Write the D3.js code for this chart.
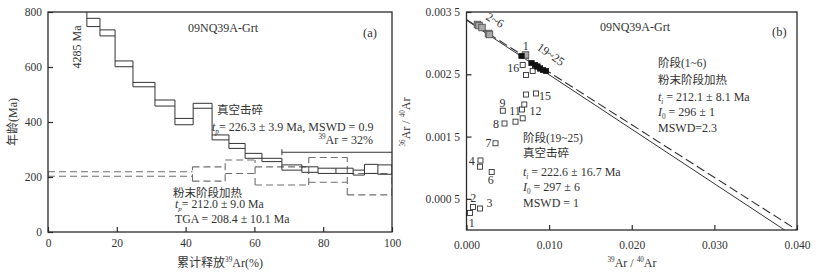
<!DOCTYPE html>
<html><head><meta charset="utf-8">
<script src="https://cdn.jsdelivr.net/npm/d3@7"></script>
<style>
body{margin:0;background:#fff;}
svg text{font-family:"Liberation Serif","Times New Roman","Noto Sans CJK SC",serif;fill:#333;}
</style></head><body><svg id="c" width="819" height="274"></svg>
<script>
// ---------- data: panel (a) age spectra ----------
const crushCum   = [0, 11.3, 15.1, 19.5, 24.7, 31.1, 36.9, 42.2, 47.7, 52.6, 57.3, 62.2, 68.0, 73.8, 78.5, 83.7, 88.7, 92.0, 95.9, 100];
const crushAgeHi = [4300, 777, 735, 622, 544, 480, 413, 468, 353, 322, 286, 268, 244, 237, 232, 232, 225, 246, 244];
const crushAgeLo = [4270, 747, 713, 601, 528, 458, 390, 450, 335, 304, 268, 256, 225, 217, 213, 213, 207, 213, 210];
const heatCum    = [0, 42.0, 51.5, 60.2, 75.8, 87.0, 100];
const heatAgeHi  = [219, 237, 262, 237, 271, 213];
const heatAgeLo  = [203, 185, 213, 171, 181, 135];
const plateauRange = [68.0, 100];
const plateauAge = 290;
// ---------- data: panel (b) isochron ----------
const openX  = [0.000424,0.000787,0.001634,0.001694,0.001634,0.003050,0.003510,0.004599,0.004393,0.005930,0.006717,0.006996,0.006802,0.007201,0.008412,0.006802,0.007201,0.008012];
const openY  = [0.000273,0.000369,0.000345,0.001116,0.001016,0.000931,0.001392,0.001710,0.001915,0.001739,0.001935,0.002015,0.001793,0.002175,0.002192,0.002649,0.002489,0.002553];
const grayX  = [0.007141,0.001331,0.001513,0.001876,0.002663,0.002784];
const grayY  = [0.002810,0.003299,0.003283,0.003251,0.003155,0.003139];
const blackX = [0.006657,0.007867,0.008291,0.008593,0.008896,0.009259,0.009622];
const blackY = [0.002794,0.002681,0.002649,0.002625,0.002593,0.002569,0.002553];
const isoSolid  = [[0, 1/297], [0.0385, 0]];
const isoDashed = [[0, 1/296], [0.0400, 0]];
// point labels: [text, x, y] (data coords of label centre)
const ptLabels = [["1",0.00716,0.00296],["16",0.00565,0.00260],["15",0.00950,0.00215],["9",0.00436,0.00205],
  ["11",0.00587,0.00192],["12",0.00834,0.00192],["8",0.00358,0.00171],["7",0.00265,0.00140],["4",0.00063,0.00111],
  ["6",0.00293,0.00081],["2",0.00083,0.00051],["3",0.00277,0.00043],["1",0.00063,0.00012]];
// ticks
const aXTicks = [0,20,40,60,80,100];
const aYTicks = [0,200,400,600,800];
const bXTicks = [0,0.01,0.02,0.03,0.04];
const bYTicks = [0.0005,0.0015,0.0025,0.0035];

const svg = d3.select('#c');
const INK = '#2a2a2a';

function rich(parent, x, y, parts, o={}) {
  const fs = o.size||12;
  const t = parent.append('text').attr('x',x).attr('y',y).attr('font-size',fs).attr('text-anchor',o.anchor||'start');
  if (o.transform) t.attr('transform',o.transform);
  let shift=0;
  parts.forEach(p=>{
    const [s,k] = Array.isArray(p)?p:[p,''];
    const ts=t.append('tspan').text(s);
    const target = k==='sup' ? -fs*0.38 : (k==='sub'||k==='isub') ? fs*0.22 : 0;
    if (target!==shift){ ts.attr('dy',target-shift); shift=target; }
    if (k==='sup'||k==='sub'||k==='isub') ts.attr('font-size',fs*0.6);
    if (k==='i'||k==='isub') ts.attr('font-style','italic');
  });
  return t;
}

// ================= panel (a) =================
const xA = d3.scaleLinear([0,100],[48,392]);
const yA = d3.scaleLinear([0,800],[232,12]);
const gA = svg.append('g');
svg.append('defs').append('clipPath').attr('id','clipA').append('rect')
  .attr('x',48).attr('y',12).attr('width',344).attr('height',220);

function spectrumSegs(cum, hi, lo) {
  const segs=[];
  for (let i=0;i<hi.length;i++){
    segs.push([[cum[i],hi[i]],[cum[i+1],hi[i]]]);
    segs.push([[cum[i],lo[i]],[cum[i+1],lo[i]]]);
  }
  for (let j=0;j<cum.length;j++){
    const idx=[j-1,j].filter(k=>k>=0&&k<hi.length);
    const top=d3.max(idx,k=>hi[k]), bot=d3.min(idx,k=>lo[k]);
    segs.push([[cum[j],bot],[cum[j],top]]);
  }
  return segs;
}
const specG = gA.append('g').attr('clip-path','url(#clipA)');
specG.selectAll('line.h').data(spectrumSegs(heatCum,heatAgeHi,heatAgeLo)).join('line')
  .attr('x1',d=>xA(d[0][0])).attr('y1',d=>yA(d[0][1])).attr('x2',d=>xA(d[1][0])).attr('y2',d=>yA(d[1][1]))
  .attr('stroke','#6e6e6e').attr('stroke-width',1.1).attr('stroke-dasharray','7,4');
specG.selectAll('line.c').data(spectrumSegs(crushCum,crushAgeHi,crushAgeLo)).join('line')
  .attr('x1',d=>xA(d[0][0])).attr('y1',d=>yA(d[0][1])).attr('x2',d=>xA(d[1][0])).attr('y2',d=>yA(d[1][1]))
  .attr('stroke','#333').attr('stroke-width',1);
// plateau bar
gA.append('line').attr('x1',xA(plateauRange[0])).attr('x2',xA(plateauRange[1]))
  .attr('y1',yA(plateauAge)).attr('y2',yA(plateauAge)).attr('stroke','#333').attr('stroke-width',1);
gA.append('line').attr('x1',xA(plateauRange[0])).attr('x2',xA(plateauRange[0]))
  .attr('y1',yA(plateauAge)-3).attr('y2',yA(plateauAge)+3).attr('stroke','#333').attr('stroke-width',1);

// axes
const axAx = gA.append('g').attr('transform','translate(0,232)')
  .call(d3.axisBottom(xA).tickValues(aXTicks).tickSize(-5).tickPadding(7).tickFormat(d3.format('d')));
const axAy = gA.append('g').attr('transform','translate(48,0)')
  .call(d3.axisLeft(yA).tickValues(aYTicks).tickSize(-5).tickPadding(6).tickFormat(d3.format('d')));
[axAx,axAy].forEach(a=>{a.select('.domain').remove(); a.selectAll('line').attr('stroke',INK).attr('stroke-width',1.2);
  a.selectAll('text').attr('font-size',11.5).attr('fill','#333').attr('font-family','"Liberation Serif",serif');});
gA.append('rect').attr('x',48).attr('y',12).attr('width',344).attr('height',220)
  .attr('fill','none').attr('stroke',INK).attr('stroke-width',1.3);

// texts (a)
rich(gA,188,32,['09NQ39A-Grt']);
rich(gA,363,37,['(a)'],{size:12.5});
rich(gA,0,0,['4285 Ma'],{anchor:'middle',transform:'translate(81,47) rotate(-90)'});
rich(gA,217,114,['真空击碎'],{size:11.5});
rich(gA,212,131,[['t','i'],['p','isub'],'= 226.3 ± 3.9 Ma, MSWD = 0.9']);
rich(gA,373,144,[['39','sup'],'Ar = 32%'],{anchor:'end'});
rich(gA,173,196.5,['粉末阶段加热'],{size:11.5});
rich(gA,175,208,[['t','i'],['p','isub'],'= 212.0 ± 9.0 Ma'],{size:11.8});
rich(gA,175,223,['TGA = 208.4 ± 10.1 Ma'],{size:11.8});
rich(gA,0,0,['年龄(Ma)'],{anchor:'middle',transform:'translate(17,122) rotate(-90)'});
rich(gA,220,267,['累计释放',['39','sup'],'Ar(%)'],{anchor:'middle'});

// ================= panel (b) =================
const xB = d3.scaleLinear([0,0.04],[466.5,797]);
const yB = d3.scaleLinear([0,0.0035],[230,12]);
const gB = svg.append('g');
svg.select('defs').append('clipPath').attr('id','clipB').append('rect')
  .attr('x',466.5).attr('y',12).attr('width',330.5).attr('height',218);
const isoG = gB.append('g').attr('clip-path','url(#clipB)');
const ln = d3.line().x(d=>xB(d[0])).y(d=>yB(d[1]));
isoG.append('path').attr('d',ln(isoSolid)).attr('fill','none').attr('stroke','#333').attr('stroke-width',1);
isoG.append('path').attr('d',ln(isoDashed)).attr('fill','none').attr('stroke','#333').attr('stroke-width',1.1).attr('stroke-dasharray','9,4');

function squares(xs, ys, size, fill, stroke, sw) {
  gB.append('g').selectAll('rect').data(xs.map((x,i)=>[x,ys[i]])).join('rect')
    .attr('x',d=>xB(d[0])-size/2).attr('y',d=>yB(d[1])-size/2).attr('width',size).attr('height',size)
    .attr('fill',fill).attr('stroke',stroke).attr('stroke-width',sw);
}
squares(openX,openY,5,'#fff','#333',0.9);
squares(grayX,grayY,6.5,'#a8a8a8','#555',0.9);
squares(blackX,blackY,5.5,'#111','#111',0.5);

gB.append('g').selectAll('text').data(ptLabels).join('text')
  .attr('x',d=>xB(d[1])).attr('y',d=>yB(d[2])).attr('dy','0.35em').attr('text-anchor','middle')
  .attr('font-size',12).text(d=>d[0]);
rich(gB,0,0,['2~6'],{transform:'translate(485,19) rotate(30)'});
rich(gB,0,0,['19~25'],{transform:'translate(536,49) rotate(35)'});

const axBx = gB.append('g').attr('transform','translate(0,230)')
  .call(d3.axisBottom(xB).tickValues(bXTicks).tickSize(-5).tickPadding(11).tickFormat(d3.format('.3f')));
const axBy = gB.append('g').attr('transform','translate(466.5,0)')
  .call(d3.axisLeft(yB).tickValues(bYTicks).tickSize(-5).tickPadding(6.5)
    .tickFormat(d=>{const s=d.toFixed(4); return s.slice(0,5)+' '+s.slice(5);}));
[axBx,axBy].forEach(a=>{a.select('.domain').remove(); a.selectAll('line').attr('stroke',INK).attr('stroke-width',1.2);
  a.selectAll('text').attr('font-size',11.5).attr('fill','#333').attr('font-family','"Liberation Serif",serif');});
gB.append('rect').attr('x',466.5).attr('y',12).attr('width',330.5).attr('height',218)
  .attr('fill','none').attr('stroke',INK).attr('stroke-width',1.3);

rich(gB,600,31,['09NQ39A-Grt']);
rich(gB,772,36,['(b)'],{size:12.5});
rich(gB,658,67,['阶段(1~6)'],{size:11.5});
rich(gB,658,84,['粉末阶段加热'],{size:11.5});
rich(gB,658,101,[['t','i'],['i','isub'],' = 212.1 ± 8.1 Ma']);
rich(gB,658,116,[['I','i'],['0','sub'],' = 296 ± 1']);
rich(gB,658,132,['MSWD=2.3']);
rich(gB,523,142,['阶段(19~25)'],{size:11.5});
rich(gB,523,157,['真空击碎'],{size:11.5});
rich(gB,523,176,[['t','i'],['i','isub'],' = 222.6 ± 16.7 Ma']);
rich(gB,523,191,[['I','i'],['0','sub'],' = 297 ± 6']);
rich(gB,523,207,['MSWD = 1']);
rich(gB,0,0,[['36','sup'],'Ar / ',['40','sup'],'Ar'],{anchor:'middle',transform:'translate(410,122) rotate(-90)'});
rich(gB,632,267,[['39','sup'],'Ar / ',['40','sup'],'Ar'],{anchor:'middle'});
</script></body></html>
